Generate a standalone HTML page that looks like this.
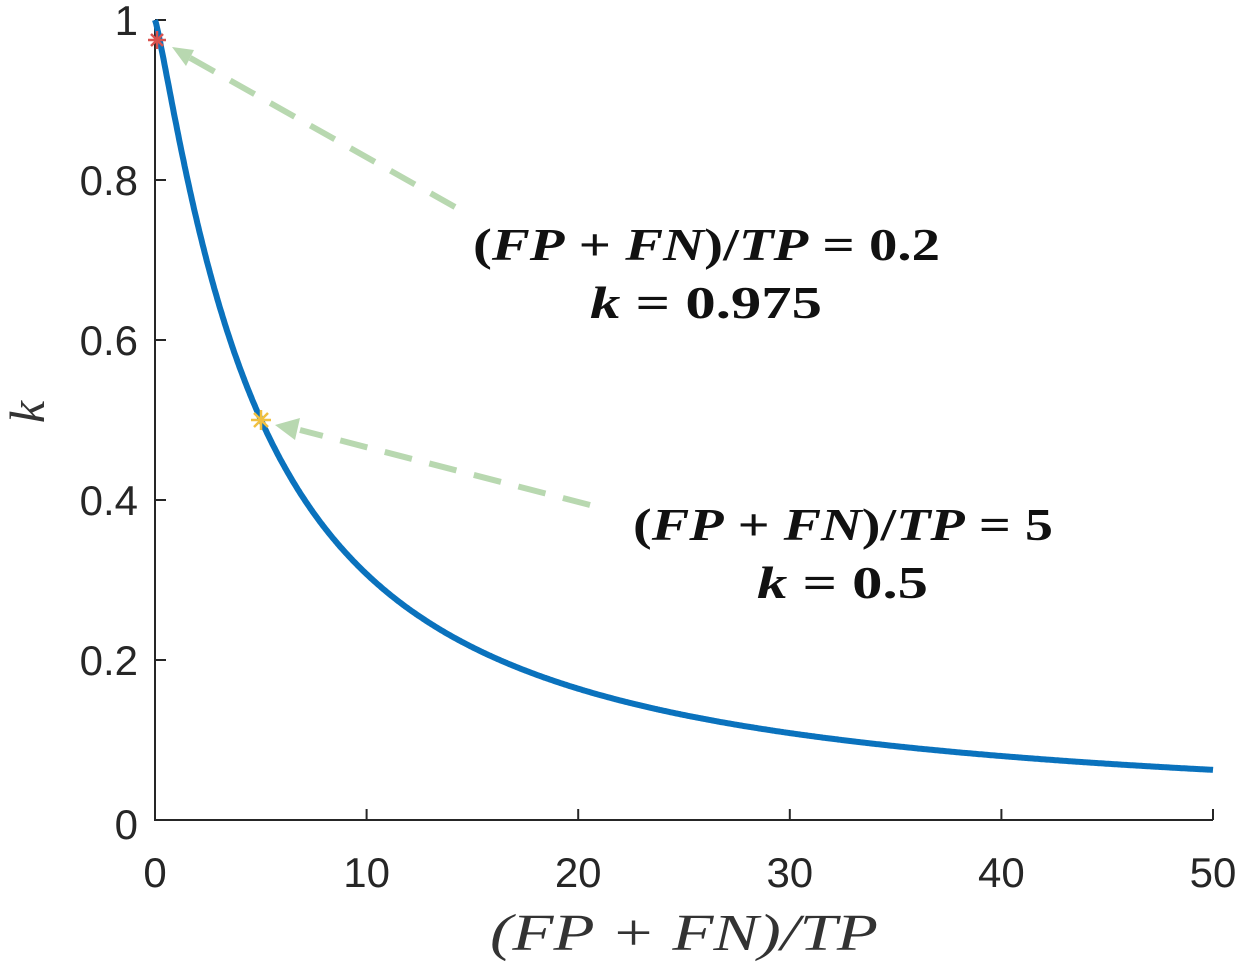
<!DOCTYPE html>
<html><head><meta charset="utf-8"><style>
html,body{margin:0;padding:0;background:#fff;}
svg{display:block;}
</style></head><body>
<svg id="s" width="1242" height="965" xmlns="http://www.w3.org/2000/svg">
<rect width="1242" height="965" fill="#fff"/>
<g stroke="#262626" stroke-width="2" fill="none">
<line x1="155" y1="20" x2="155" y2="821"/>
<line x1="154" y1="820" x2="1213" y2="820"/>
<line x1="155" y1="20" x2="166" y2="20"/>
<line x1="155" y1="180" x2="166" y2="180"/>
<line x1="155" y1="340" x2="166" y2="340"/>
<line x1="155" y1="500" x2="166" y2="500"/>
<line x1="155" y1="660" x2="166" y2="660"/>
<line x1="366.6" y1="820" x2="366.6" y2="809"/>
<line x1="578.2" y1="820" x2="578.2" y2="809"/>
<line x1="789.8" y1="820" x2="789.8" y2="809"/>
<line x1="1001.4" y1="820" x2="1001.4" y2="809"/>
<line x1="1213" y1="820" x2="1213" y2="809"/>
</g>
<g font-family="Liberation Sans, sans-serif" font-size="42" fill="#262626" text-anchor="end">
<text x="138" y="35">1</text>
<text x="138" y="195">0.8</text>
<text x="138" y="355">0.6</text>
<text x="138" y="515">0.4</text>
<text x="138" y="675">0.2</text>
<text x="138" y="839">0</text>
</g>
<g font-family="Liberation Sans, sans-serif" font-size="42" fill="#262626" text-anchor="middle">
<text x="155" y="887">0</text>
<text x="366.6" y="887">10</text>
<text x="578.2" y="887">20</text>
<text x="789.8" y="887">30</text>
<text x="1001.4" y="887">40</text>
<text x="1213" y="887">50</text>
</g>
<text x="490" y="950" textLength="388" lengthAdjust="spacingAndGlyphs" font-family="Liberation Serif, serif" font-style="italic" font-size="52" fill="#333">(FP + FN)/TP</text>
<text transform="translate(44,412) rotate(-90)" font-family="Liberation Serif, serif" font-style="italic" font-size="50" fill="#333" text-anchor="middle">k</text>
<polyline id="c" fill="none" stroke="#0a72bd" stroke-width="6"/>
<g stroke="#b8d8b0" stroke-width="6" stroke-dasharray="28,18" fill="none">
<line x1="455" y1="207" x2="185" y2="55"/>
<line x1="590" y1="505" x2="300" y2="430"/>
</g>
<polygon points="172,47 194,50 186,66" fill="#b8d8b0"/>
<polygon points="275,425 300,418 295,440" fill="#b8d8b0"/>
<g stroke-width="2.5">
<g stroke="#d9534f"><line x1="148" y1="40" x2="166" y2="40"/><line x1="157" y1="31" x2="157" y2="49"/><line x1="151" y1="34" x2="163" y2="46"/><line x1="151" y1="46" x2="163" y2="34"/></g>
<g stroke="#f0c040"><line x1="251" y1="420" x2="271" y2="420"/><line x1="261" y1="410" x2="261" y2="430"/><line x1="254" y1="413" x2="268" y2="427"/><line x1="254" y1="427" x2="268" y2="413"/></g>
</g>
<g font-family="Liberation Serif, serif" font-weight="bold" font-size="46" fill="#111">
<text x="473" y="260" textLength="467" lengthAdjust="spacingAndGlyphs"><tspan>(</tspan><tspan font-style="italic">FP</tspan><tspan> + </tspan><tspan font-style="italic">FN</tspan><tspan>)/</tspan><tspan font-style="italic">TP</tspan><tspan> = 0.2</tspan></text>
<text x="590" y="318" textLength="232" lengthAdjust="spacingAndGlyphs"><tspan font-style="italic">k</tspan><tspan> = 0.975</tspan></text>
<text x="633" y="540" textLength="420" lengthAdjust="spacingAndGlyphs"><tspan>(</tspan><tspan font-style="italic">FP</tspan><tspan> + </tspan><tspan font-style="italic">FN</tspan><tspan>)/</tspan><tspan font-style="italic">TP</tspan><tspan> = 5</tspan></text>
<text x="757" y="598" textLength="171" lengthAdjust="spacingAndGlyphs"><tspan font-style="italic">k</tspan><tspan> = 0.5</tspan></text>
</g>
</svg>
<script>
var p=[];for(var i=0;i<=1000;i++){var x=i*0.05;var k=1/(1+0.15027*Math.pow(x,1.176));p.push((155+x*21.16).toFixed(1)+","+(820-k*800).toFixed(1));}
document.getElementById("c").setAttribute("points",p.join(" "));
</script>
</body></html>
